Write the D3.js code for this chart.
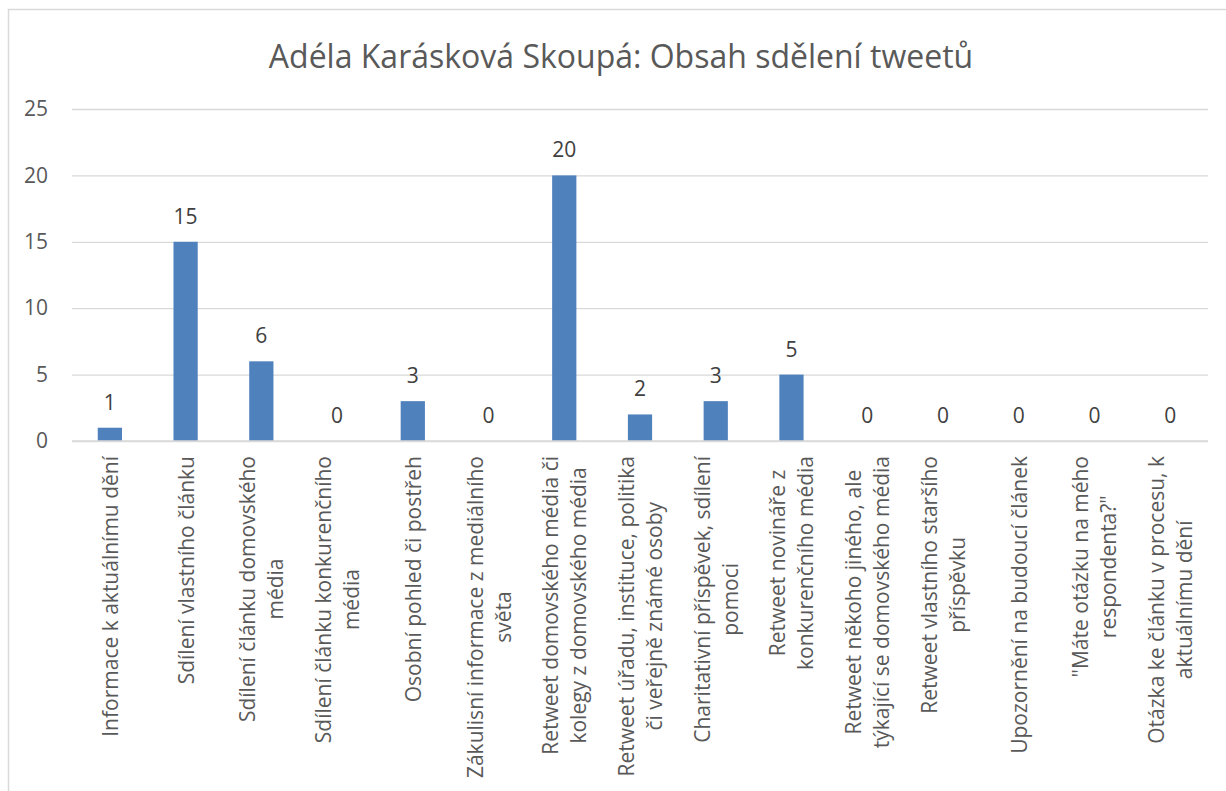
<!DOCTYPE html>
<html><head><meta charset="utf-8">
<script src="https://cdn.jsdelivr.net/npm/d3@7"></script>
<style>
html,body{margin:0;padding:0;background:#fff;}
svg{display:block;font-family:"Open Sans","Segoe UI",sans-serif;}
</style></head>
<body>
<svg id="chart" width="1226" height="791"></svg>
<script>
const title = "Adéla Karásková Skoupá: Obsah sdělení tweetů";
const categories = [
  ["Informace k aktuálnímu dění"],
  ["Sdílení vlastního článku"],
  ["Sdílení článku domovského", "média"],
  ["Sdílení článku konkurenčního", "média"],
  ["Osobní pohled či postřeh"],
  ["Zákulisní informace z mediálního", "světa"],
  ["Retweet domovského média či", "kolegy z domovského média"],
  ["Retweet úřadu, instituce, politika", "či veřejně známé osoby"],
  ["Charitativní příspěvek, sdílení", "pomoci"],
  ["Retweet novináře z", "konkurenčního média"],
  ["Retweet někoho jiného, ale", "týkající se domovského média"],
  ["Retweet vlastního staršího", "příspěvku"],
  ["Upozornění na budoucí článek"],
  ["\"Máte otázku na mého", "respondenta?\""],
  ["Otázka ke článku v procesu, k", "aktuálnímu dění"]
];
const values = [1, 15, 6, 0, 3, 0, 20, 2, 3, 5, 0, 0, 0, 0, 0];
const yTicks = [0, 5, 10, 15, 20, 25];

const svg = d3.select("#chart");
const W = 1226, H = 791;
const plot = {left: 72, right: 1208, top: 109, bottom: 441};

// frame (left and top edges visible)
svg.append("path")
  .attr("d", `M8.5,${H} L8.5,9.5 L${W},9.5`)
  .attr("fill", "none").attr("stroke", "#D9D9D9").attr("stroke-width", 1.5);

// title
svg.append("text")
  .attr("x", 621).attr("y", 68)
  .attr("text-anchor", "middle")
  .attr("font-size", 32).attr("fill", "#595959")
  .text(title);

const x = d3.scaleBand().domain(d3.range(categories.length))
  .range([plot.left, plot.right]).paddingInner(0.68).paddingOuter(0.34);
const y = d3.scaleLinear().domain([0, 25]).range([plot.bottom, plot.top]);

// gridlines
const yAxis = d3.axisLeft(y).tickValues(yTicks).tickSize(-(plot.right - plot.left)).tickPadding(24);
const gy = svg.append("g").attr("transform", `translate(${plot.left},0)`).call(yAxis);
gy.select(".domain").remove();
gy.selectAll(".tick line").attr("stroke", "#D9D9D9").attr("stroke-width", 1.3);
gy.selectAll(".tick text").attr("font-size", 21).attr("fill", "#595959")
  .attr("font-family", "\"Open Sans\",sans-serif");

// bars
svg.append("g").selectAll("rect").data(values).join("rect")
  .attr("x", (d, i) => x(i))
  .attr("width", x.bandwidth())
  .attr("y", d => y(d))
  .attr("height", d => y(0) - y(d))
  .attr("fill", "#4F81BD");

// baseline axis
svg.append("line").attr("x1", plot.left).attr("x2", plot.right)
  .attr("y1", y(0)).attr("y2", y(0))
  .attr("stroke", "#D9D9D9").attr("stroke-width", 1.3);

// data labels
svg.append("g").selectAll("text").data(values).join("text")
  .attr("x", (d, i) => x(i) + x.bandwidth() / 2)
  .attr("y", d => y(d) - 18)
  .attr("text-anchor", "middle")
  .attr("font-size", 21).attr("fill", "#404040")
  .text(d => d);

// category labels (rotated)
const lineH = 28;
const labelTop = 456;
const cg = svg.append("g");
categories.forEach((lines, i) => {
  const cx = x(i) + x.bandwidth() / 2;
  const g = cg.append("g").attr("transform", `translate(${cx},${labelTop}) rotate(-90)`);
  const texts = lines.map((ln, k) => g.append("text")
    .attr("font-size", 21).attr("fill", "#595959")
    .attr("text-anchor", "middle")
    .attr("dominant-baseline", "central")
    .attr("y", (k - (lines.length - 1) / 2) * lineH)
    .text(ln));
  const maxW = d3.max(texts, t => t.node().getComputedTextLength());
  texts.forEach(t => t.attr("x", -maxW / 2));
});
</script>
</body></html>
